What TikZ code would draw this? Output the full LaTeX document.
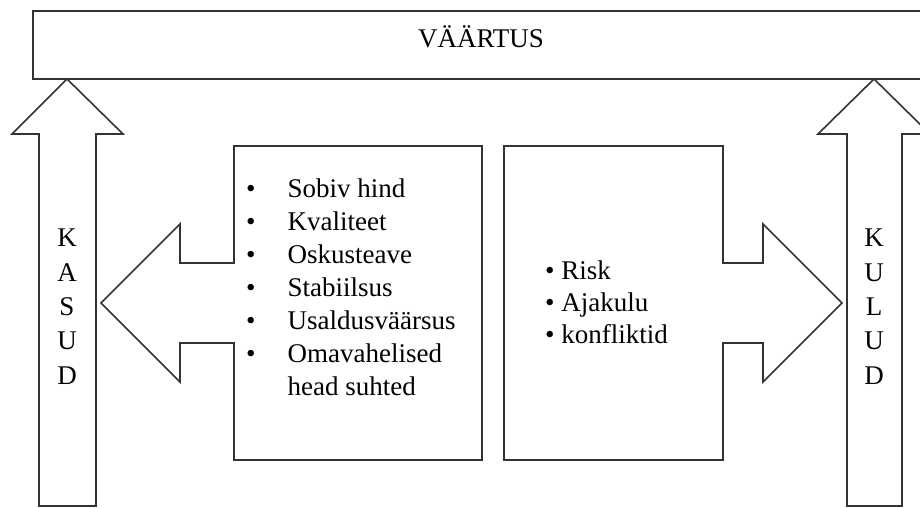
\documentclass[tikz,border=0pt]{standalone}
\usepackage{fontspec}
\setmainfont{Liberation Serif}
\usetikzlibrary{calc}

\begin{document}
\begin{tikzpicture}[x=1pt,y=-1pt,
  outline/.style={draw=black!80,line width=1.6pt,line join=miter,fill=white},
  word/.style={inner sep=0pt,anchor=base,font=\fontsize{27}{33}\selectfont}]

% Frame of the picture
\useasboundingbox (0,0) rectangle (920,507);
\clip (0,0) rectangle (920,507);

% Define coordinates
\coordinate (L) at (67,79);   % tip of left arrow
\coordinate (R) at (874,79);  % tip of right arrow
\coordinate (PL) at (101,303);
\coordinate (PR) at (842,303);

% Draw vertical arrows
\draw[outline] (39,506) -- (39,134) -- (12,134) -- (L) -- (123,134) -- (96,134) -- (96,506) -- cycle;
\draw[outline] (847,506) -- (847,134) -- (818,134) -- (R) -- (930,134) -- (902,134) -- (902,506) -- cycle;

% Top box
\draw[outline] (33,11) rectangle (940,79);

% Boxes with side arrows
\draw[outline] (482,146) -- (234,146) -- (234,263) -- (180,263) -- (180,224) -- (PL)
  -- (180,382) -- (180,343) -- (234,343) -- (234,460) -- (482,460) -- cycle;
\draw[outline] (504,146) -- (723,146) -- (723,263) -- (763,263) -- (763,224) -- (PR)
  -- (763,382) -- (763,343) -- (723,343) -- (723,460) -- (504,460) -- cycle;

% Labels
\node[word] (value) at (481,47) {VÄÄRTUS};
\foreach \ch [count=\i] in {K,A,S,U,D}
  \node[word] (kasud\i) at (67,{246.7+34.4*(\i-1)}) {\ch};
\foreach \ch [count=\i] in {K,U,L,U,D}
  \node[word] (kulud\i) at (874,{246.7+34.4*(\i-1)}) {\ch};

% Lists
\node[word,anchor=base west] (pros) at (246,197) {%
  \begin{tabular}[t]{@{}l@{\hspace{32pt}}l@{}}
  \textbullet & Sobiv hind\\
  \textbullet & Kvaliteet\\
  \textbullet & Oskusteave\\
  \textbullet & Stabiilsus\\
  \textbullet & Usaldusväärsus\\
  \textbullet & Omavahelised\\
              & head suhted
  \end{tabular}};
\node[word,anchor=base west,font=\fontsize{27}{32}\selectfont] (cons) at (545,279) {%
  \begin{tabular}[t]{@{}l@{}}
  \textbullet{} Risk\\
  \textbullet{} Ajakulu\\
  \textbullet{} konfliktid
  \end{tabular}};

\end{tikzpicture}
\end{document}
